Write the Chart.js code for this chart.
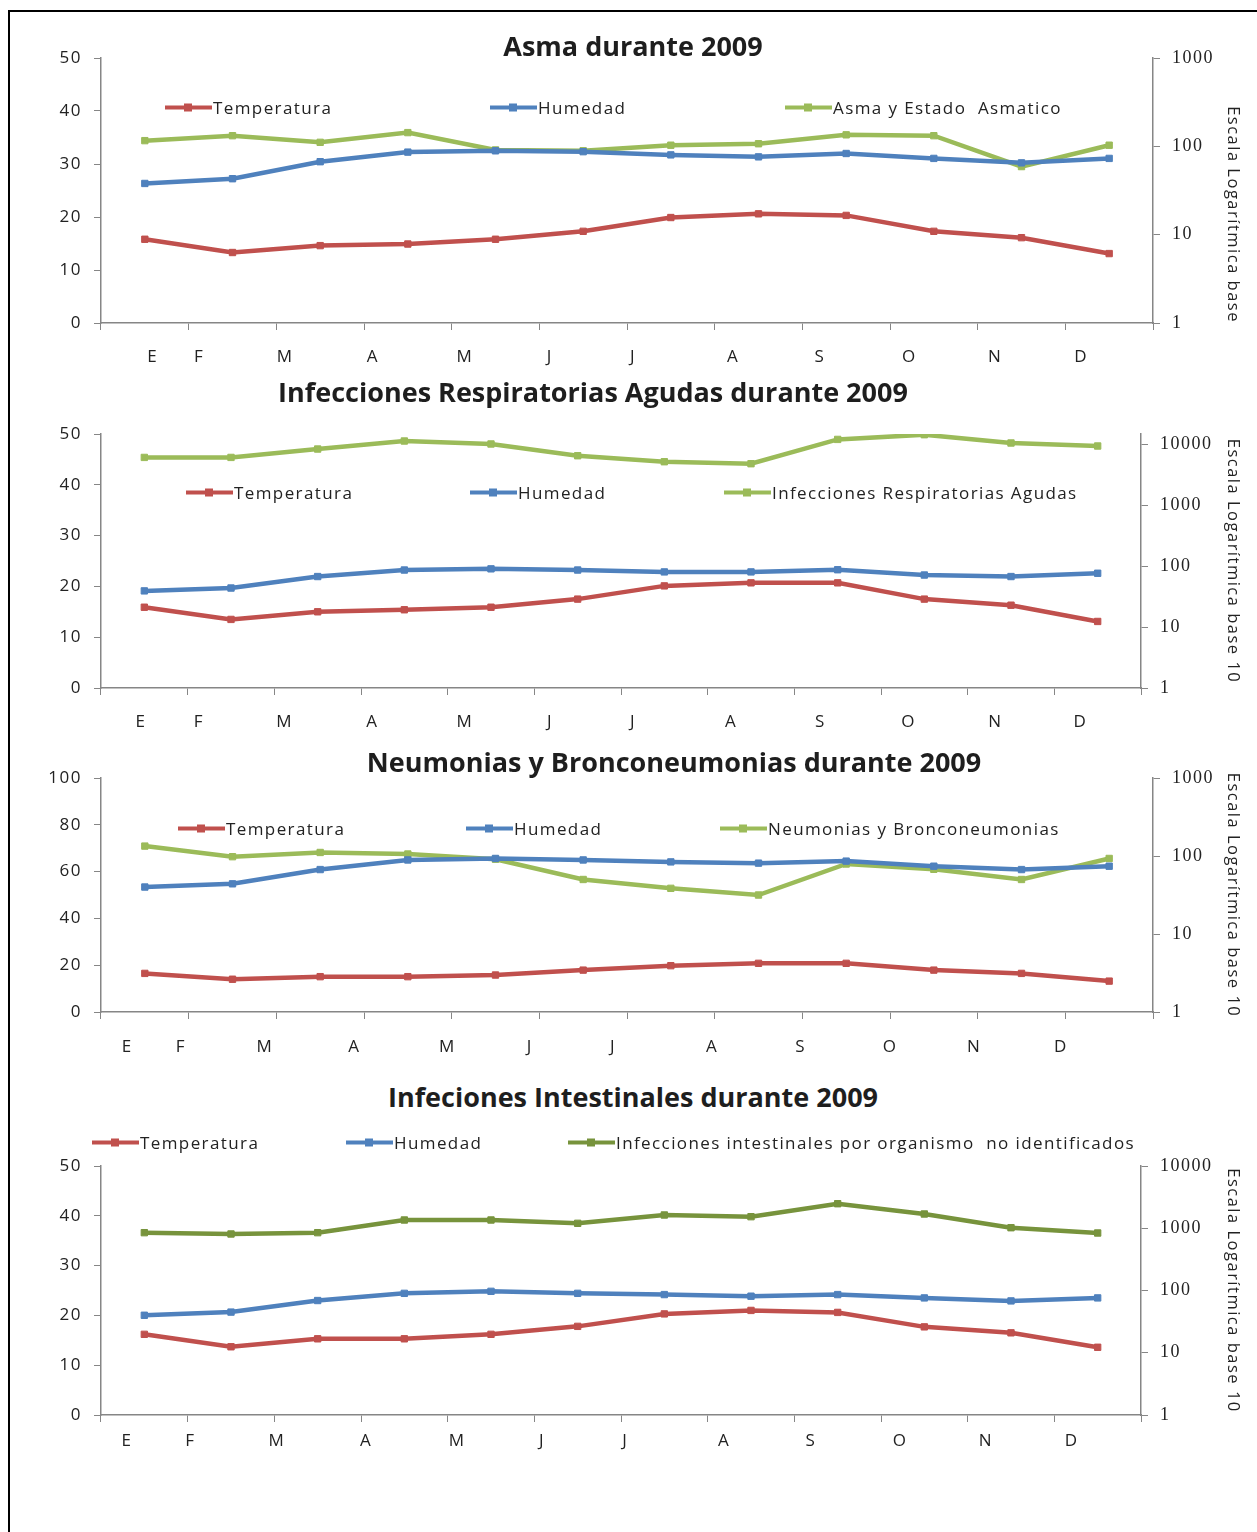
<!DOCTYPE html>
<html lang="es">
<head>
<meta charset="UTF-8">
<title>Enfermedades y clima durante 2009</title>
<script src="https://cdn.jsdelivr.net/npm/chart.js"></script>
<style>
  html, body { margin: 0; padding: 0; background: #fff; overflow: hidden; }
  #page { position: relative; width: 1257px; height: 1532px; overflow: hidden; background: #fff; }
  .marco { position: absolute; left: 8px; top: 10px; width: 1300px; height: 1600px;
           border-left: 2px solid #000; border-top: 2px solid #000; }
  canvas { position: absolute; left: 0; }
  .titulo { position: absolute; font: bold 27px "Open Sans", sans-serif; color: #1e1e1e;
            white-space: nowrap; transform: translate(-50%, -50%); z-index: 2; }
  .leyenda { position: absolute; font: 17px "Open Sans", sans-serif; letter-spacing: 1.4px; color: #222;
             white-space: pre; transform: translateY(-50%); display: flex; align-items: center; z-index: 2; }
  .leyenda .muestra { position: relative; width: 47px; height: 4px; margin-right: 1px; }
  .leyenda .muestra::after { content: ''; position: absolute; left: 19px; top: -2px; width: 8px; height: 8px; background: inherit; }
</style>
</head>
<body>
<div id="page">
  <div class="marco"></div>
</div>
<script>
  // categorias y etiquetas del eje
  const meses = ['Enero', 'Febrero', 'Marzo', 'Abril', 'Mayo', 'Junio', 'Julio', 'Agosto', 'Septiembre', 'Octubre', 'Noviembre', 'Diciembre'];
  const letrasMes = ['E', 'F', 'M', 'A', 'M', 'J', 'J', 'A', 'S', 'O', 'N', 'D'];
  const ticksLog3 = [1, 10, 100, 1000];
  const ticksLog4 = [1, 10, 100, 1000, 10000];

  // Asma
  const asmaTemp = [15.8, 13.3, 14.6, 14.9, 15.8, 17.3, 19.9, 20.6, 20.3, 17.3, 16.1, 13.1];
  const asmaHum = [38, 43, 67, 86, 89, 87, 80, 76, 83, 73, 65, 73];
  const asmaCasos = [116, 132, 111, 143, 91, 89, 103, 107, 135, 132, 59, 103];

  // Infecciones respiratorias agudas
  const iraTemp = [15.9, 13.5, 15.0, 15.4, 15.9, 17.5, 20.1, 20.7, 20.7, 17.5, 16.3, 13.1];
  const iraHum = [39.5, 44, 68, 87, 91, 87, 81, 81, 88, 72, 68, 77];
  const iraCasos = [6180, 6180, 8490, 11500, 10280, 6590, 5250, 4870, 12220, 14610, 10670, 9520];

  // Neumonias y bronconeumonias
  const neuTemp = [16.5, 14.0, 15.1, 15.1, 15.8, 17.9, 19.8, 20.8, 20.8, 17.9, 16.5, 13.2];
  const neuHum = [40, 44, 67, 89, 93, 89, 84, 81, 86, 74, 67, 74];
  const neuCasos = [134, 98, 111, 106, 91, 50, 38.5, 31.6, 79, 67.5, 50, 93];

  // Infecciones intestinales
  const intTemp = [16.2, 13.7, 15.3, 15.3, 16.2, 17.8, 20.3, 21.0, 20.6, 17.7, 16.5, 13.6];
  const intHum = [40, 45, 69, 90, 97, 90, 86, 81, 86, 76, 68, 76];
  const intCasos = [849, 809, 849, 1357, 1357, 1200, 1633, 1534, 2478, 1694, 1020, 839];

  const ROJO = '#C0504D', AZUL = '#4F81BD', VERDE = '#9BBB59', OLIVA = '#77933C', GRIS = '#868686';

  Chart.defaults.font.family = '"Open Sans", sans-serif';
  Chart.defaults.font.size = 17;
  Chart.defaults.color = '#222';

  const espaciado = {
    id: 'espaciado',
    beforeLayout(chart) { chart.ctx.letterSpacing = '1.5px'; },
    beforeDraw(chart) { chart.ctx.letterSpacing = '1.5px'; }
  };

  const graficos = [
    { titulo: 'Asma durante 2009', tx: 633, ty: 45, top: 58, bottom: 323, derecha: 1153,
      yMax: 50, yPaso: 10, logMax: 1000, logTicks: ticksLog3, ejeTitulo: 'Escala Logarítmica base', ejeAlign: 'start',
      posLetras: [0.59, 1.12, 2.1, 3.1, 4.15, 5.12, 6.07, 7.21, 8.2, 9.22, 10.2, 11.18], padLetras: 16,
      ly: 107, lx: [165, 490, 785], verde: VERDE,
      series: [['Temperatura', asmaTemp], ['Humedad', asmaHum], ['Asma y Estado  Asmatico', asmaCasos]] },
    { titulo: 'Infecciones Respiratorias Agudas durante 2009', tx: 593, ty: 391, top: 434, bottom: 688, derecha: 1141,
      yMax: 50, yPaso: 10, logMax: 15000, logTicks: ticksLog4, ejeTitulo: 'Escala Logarítmica base 10', ejeAlign: 'center',
      posLetras: [0.46, 1.13, 2.12, 3.13, 4.2, 5.18, 6.14, 7.27, 8.3, 9.32, 10.32, 11.3], padLetras: 16,
      ly: 492, lx: [186, 470, 724], verde: VERDE,
      series: [['Temperatura', iraTemp], ['Humedad', iraHum], ['Infecciones Respiratorias Agudas', iraCasos]] },
    { titulo: 'Neumonias y Bronconeumonias durante 2009', tx: 674, ty: 761, top: 778, bottom: 1012, derecha: 1153,
      yMax: 100, yPaso: 20, logMax: 1000, logTicks: ticksLog3, ejeTitulo: 'Escala Logarítmica base 10', ejeAlign: 'center',
      posLetras: [0.3, 0.91, 1.87, 2.89, 3.95, 4.89, 5.84, 6.97, 7.98, 9.0, 9.96, 10.95], padLetras: 17,
      ly: 828, lx: [178, 466, 720], verde: VERDE,
      series: [['Temperatura', neuTemp], ['Humedad', neuHum], ['Neumonias y Bronconeumonias', neuCasos]] },
    { titulo: 'Infeciones Intestinales durante 2009', tx: 633, ty: 1096, top: 1166, bottom: 1415, derecha: 1141,
      yMax: 50, yPaso: 10, logMax: 10000, logTicks: ticksLog4, ejeTitulo: 'Escala Logarítmica base 10', ejeAlign: 'center',
      posLetras: [0.3, 1.03, 2.03, 3.06, 4.11, 5.09, 6.05, 7.19, 8.19, 9.22, 10.21, 11.2], padLetras: 8,
      ly: 1142, lx: [92, 346, 568], verde: OLIVA,
      series: [['Temperatura', intTemp], ['Humedad', intHum], ['Infecciones intestinales por organismo  no identificados', intCasos]] }
  ];

  const page = document.getElementById('page');

  graficos.forEach((g) => {
    const canvas = document.createElement('canvas');
    canvas.width = 1257;
    canvas.height = (g.bottom - g.top) + 30 + 48;
    canvas.style.top = (g.top - 30) + 'px';
    page.appendChild(canvas);

    const colores = [ROJO, AZUL, g.verde];
    const ejes = ['y', 'y1', 'y1'];

    const datasets = g.series.map(([label, data], i) => ({
      label, data,
      yAxisID: ejes[i], xAxisID: 'x',
      borderColor: colores[i], backgroundColor: colores[i],
      borderWidth: 4.5, tension: 0,
      pointStyle: 'rect', pointRadius: 4.5, pointBorderWidth: 1
    }));

    new Chart(canvas.getContext('2d'), {
      type: 'line',
      data: { labels: meses, datasets },
      plugins: [espaciado],
      options: {
        responsive: false,
        animation: false,
        layout: { padding: { top: 30, bottom: 0, left: 0, right: 0 } },
        plugins: { legend: { display: false }, tooltip: { enabled: false } },
        scales: {
          x: {
            type: 'category', offset: true, weight: 0,
            grid: { offset: true, drawOnChartArea: false, drawTicks: true, tickLength: 7, color: GRIS },
            border: { color: GRIS, width: 1.5 },
            ticks: { display: false },
            afterFit: s => { s.height = 8; }
          },
          xm: {
            type: 'linear', position: 'bottom', min: 0, max: 12, weight: 1,
            grid: { display: false, drawTicks: false },
            border: { display: false },
            ticks: { autoSkip: false, maxRotation: 0, padding: g.padLetras,
                     font: { size: 17 }, callback: (v, i) => letrasMes[i] },
            afterBuildTicks: s => { s.ticks = g.posLetras.map(v => ({ value: v })); },
            afterFit: s => { s.height = 40; }
          },
          y: {
            type: 'linear', position: 'left', min: 0, max: g.yMax,
            ticks: { stepSize: g.yPaso, padding: 12, font: { size: 17 } },
            grid: { drawOnChartArea: false, tickLength: 7, color: GRIS },
            border: { color: GRIS, width: 1.5 },
            afterFit: s => { s.width = 101; }
          },
          y1: {
            type: 'logarithmic', position: 'right', min: 1, max: g.logMax,
            ticks: { padding: 12, font: { family: '"Liberation Serif", serif', size: 18 },
                     callback: v => String(v) },
            afterBuildTicks: s => { s.ticks = g.logTicks.map(v => ({ value: v })); },
            grid: { drawOnChartArea: false, tickLength: 7, color: GRIS },
            border: { color: GRIS, width: 1.5 },
            title: { display: true, text: g.ejeTitulo, align: g.ejeAlign,
                     font: { size: 16.5 }, padding: { top: 14, bottom: 0 } },
            afterFit: s => { s.width = 1257 - g.derecha; }
          }
        }
      }
    });

    const t = document.createElement('div');
    t.className = 'titulo';
    t.textContent = g.titulo;
    t.style.left = g.tx + 'px';
    t.style.top = g.ty + 'px';
    page.appendChild(t);

    datasets.forEach((d, i) => {
      const item = document.createElement('div');
      item.className = 'leyenda';
      item.style.left = g.lx[i] + 'px';
      item.style.top = g.ly + 'px';
      const m = document.createElement('span');
      m.className = 'muestra';
      m.style.backgroundColor = d.borderColor;
      const txt = document.createElement('span');
      txt.textContent = d.label;
      item.appendChild(m);
      item.appendChild(txt);
      page.appendChild(item);
    });
  });
</script>
</body>
</html>
